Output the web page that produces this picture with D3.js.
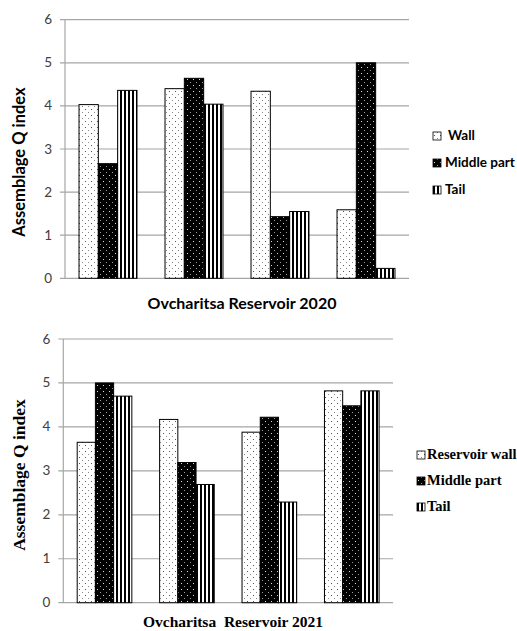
<!DOCTYPE html>
<html>
<head>
<meta charset="utf-8">
<script src="https://cdn.jsdelivr.net/npm/d3@7"></script>
<style>
  body { margin: 0; background: #fff; }
  svg { display: block; }
</style>
</head>
<body>
<svg id="chart" width="517" height="631"></svg>
<script>
// data
var groups = ["1", "2", "3", "4"];
var yTicks = [0, 1, 2, 3, 4, 5, 6];

var series2020 = ["Wall", "Middle part", "Tail"];
var wall2020 = [4.03, 4.40, 4.34, 1.59];
var middle2020 = [2.66, 4.64, 1.43, 5.00];
var tail2020 = [4.36, 4.04, 1.55, 0.23];

var series2021 = ["Reservoir wall", "Middle part", "Tail"];
var wall2021 = [3.65, 4.17, 3.88, 4.82];
var middle2021 = [5.00, 3.19, 4.22, 4.48];
var tail2021 = [4.70, 2.69, 2.29, 4.82];

var svg = d3.select("#chart");
var defs = svg.append("defs");

// dotted white (wall)
var pw = defs.append("pattern").attr("id", "pWall").attr("patternUnits", "userSpaceOnUse")
  .attr("width", 6).attr("height", 6);
pw.append("rect").attr("width", 6).attr("height", 6).attr("fill", "#fff");
pw.append("rect").attr("x", 1).attr("y", 1).attr("width", 1).attr("height", 1).attr("fill", "#555");
pw.append("rect").attr("x", 4).attr("y", 4).attr("width", 1).attr("height", 1).attr("fill", "#888");

// black with light dots (middle)
var pm = defs.append("pattern").attr("id", "pMid").attr("patternUnits", "userSpaceOnUse")
  .attr("width", 6).attr("height", 6);
pm.append("rect").attr("width", 6).attr("height", 6).attr("fill", "#000");
pm.append("rect").attr("x", 1).attr("y", 1).attr("width", 1).attr("height", 1).attr("fill", "#ddd");
pm.append("rect").attr("x", 4).attr("y", 4).attr("width", 1).attr("height", 1).attr("fill", "#999");

// vertical stripes (tail)
var pt = defs.append("pattern").attr("id", "pTail").attr("patternUnits", "userSpaceOnUse")
  .attr("width", 4).attr("height", 4);
pt.append("rect").attr("width", 4).attr("height", 4).attr("fill", "#fff");
pt.append("rect").attr("x", 0).attr("width", 2).attr("height", 4).attr("fill", "#000");

var fills = ["url(#pWall)", "url(#pMid)", "url(#pTail)"];

function drawChart(cfg) {
  var g = svg.append("g");
  var y = d3.scaleLinear().domain([0, 6]).range([cfg.bottom, cfg.top]);
  var x0 = d3.scaleBand().domain(groups).range([cfg.left, cfg.right])
    .paddingInner(cfg.pad).paddingOuter(cfg.pad / 2);
  var x1 = d3.scaleBand().domain(cfg.series).range([0, x0.bandwidth()]);

  // gridlines + ticks
  g.selectAll("line.grid").data(yTicks).enter().append("line")
    .attr("x1", cfg.left - 5).attr("x2", cfg.right)
    .attr("y1", function(d) { return y(d); }).attr("y2", function(d) { return y(d); })
    .attr("stroke", "#a6a6a6").attr("stroke-width", 1.2);
  g.append("line").attr("x1", cfg.left).attr("x2", cfg.left)
    .attr("y1", cfg.top).attr("y2", cfg.bottom)
    .attr("stroke", "#a6a6a6").attr("stroke-width", 1.2);

  g.selectAll("text.tick").data(yTicks).enter().append("text")
    .attr("x", cfg.left - 13).attr("y", function(d) { return y(d) + 4.5; })
    .attr("text-anchor", "end")
    .attr("font-family", "Lato, 'Open Sans', sans-serif").attr("font-size", 13.5)
    .attr("fill", "#404040")
    .text(function(d) { return d; });

  var rows = cfg.values.map(function(vals, si) {
    return vals.map(function(v, gi) { return { s: si, g: groups[gi], v: v }; });
  });
  var flat = [].concat.apply([], rows);

  g.selectAll("rect.bar").data(flat).enter().append("rect")
    .attr("x", function(d) { return x0(d.g) + x1(cfg.series[d.s]); })
    .attr("y", function(d) { return y(d.v); })
    .attr("width", x1.bandwidth())
    .attr("height", function(d) { return cfg.bottom - y(d.v); })
    .attr("fill", function(d) { return fills[d.s]; })
    .attr("stroke", "#000").attr("stroke-width", 1);

  // axis title
  g.append("text")
    .attr("transform", "translate(" + cfg.ytX + "," + cfg.ytY + ") rotate(-90)")
    .attr("text-anchor", "middle")
    .attr("font-family", cfg.titleFont).attr("font-weight", "bold")
    .attr("font-size", cfg.ytSize).attr("fill", "#000")
    .text("Assemblage Q index");

  g.append("text")
    .attr("x", cfg.titleX).attr("y", cfg.titleY)
    .attr("text-anchor", "middle")
    .attr("font-family", cfg.titleFont).attr("font-weight", "bold")
    .attr("font-size", cfg.titleSize).attr("fill", "#000")
    .attr("xml:space", "preserve")
    .text(cfg.title);

  // legend
  var lg = g.selectAll("g.leg").data(cfg.series).enter().append("g")
    .attr("transform", function(d, i) { return "translate(" + cfg.legX + "," + (cfg.legY + i * cfg.legStep) + ")"; });
  lg.append("rect").attr("x", 0).attr("y", -8).attr("width", 8).attr("height", 8)
    .attr("fill", function(d, i) { return fills[i]; })
    .attr("stroke", "#000").attr("stroke-width", 0.8);
  lg.append("text").attr("x", function(d, i) { return cfg.legTextX + (i === 0 ? cfg.legFirstShift : 0); })
    .attr("y", 0)
    .attr("font-family", cfg.titleFont).attr("font-weight", "bold")
    .attr("font-size", cfg.legSize).attr("fill", "#000")
    .text(function(d) { return d; });
}

drawChart({
  series: series2020, values: [wall2020, middle2020, tail2020],
  left: 65, right: 409, top: 19.7, bottom: 278.3, pad: 0.326,
  titleFont: "Lato, 'Open Sans', sans-serif",
  ytX: 25, ytY: 162, ytSize: 16.5,
  title: "Ovcharitsa Reservoir 2020", titleX: 242, titleY: 309, titleSize: 16,
  legX: 433, legY: 140, legStep: 27, legTextX: 12, legFirstShift: 3, legSize: 13.5
});

drawChart({
  series: series2021, values: [wall2021, middle2021, tail2021],
  left: 63.3, right: 393, top: 339, bottom: 602.7, pad: 0.337,
  titleFont: "'Liberation Serif', 'Times New Roman', serif",
  ytX: 25, ytY: 475, ytSize: 17.5,
  title: "Ovcharitsa  Reservoir 2021", titleX: 233, titleY: 627, titleSize: 15.5,
  legX: 417, legY: 459, legStep: 26, legTextX: 10, legFirstShift: 0, legSize: 14.5
});
</script>
</body>
</html>
